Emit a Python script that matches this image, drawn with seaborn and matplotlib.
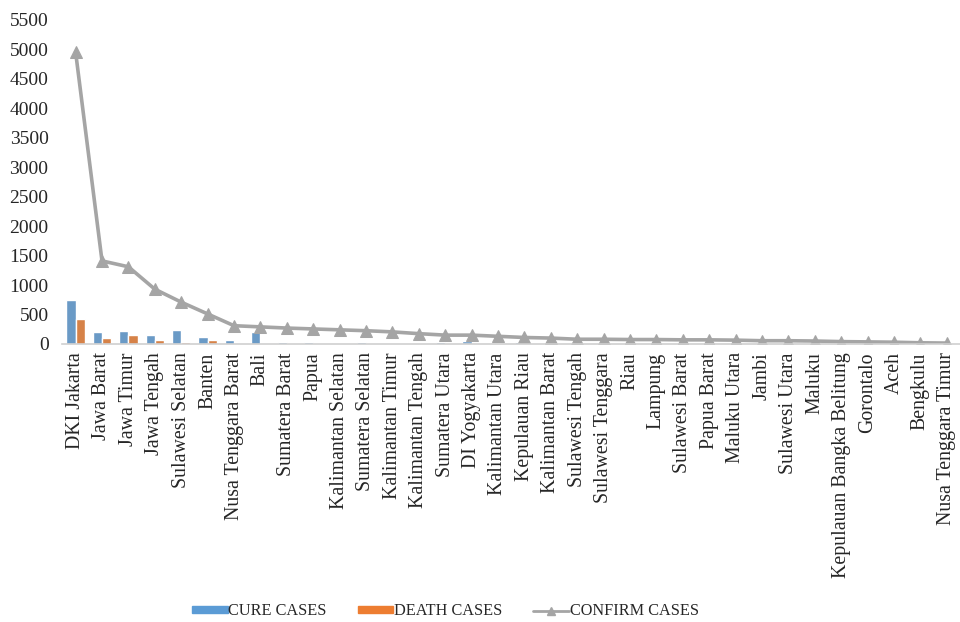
import matplotlib
matplotlib.use("Agg")
import matplotlib.pyplot as plt
import seaborn as sns
import pandas as pd
from matplotlib.patches import Patch
from matplotlib.lines import Line2D

provinces = [
    "DKI Jakarta", "Jawa Barat", "Jawa Timur", "Jawa Tengah", "Sulawesi Selatan",
    "Banten", "Nusa Tenggara Barat", "Bali", "Sumatera Barat", "Papua",
    "Kalimantan Selatan", "Sumatera Selatan", "Kalimantan Timur", "Kalimantan Tengah",
    "Sumatera Utara", "DI Yogyakarta", "Kalimantan Utara", "Kepulauan Riau",
    "Kalimantan Barat", "Sulawesi Tengah", "Sulawesi Tenggara", "Riau", "Lampung",
    "Sulawesi Barat", "Papua Barat", "Maluku Utara", "Jambi", "Sulawesi Utara",
    "Maluku", "Kepulauan Bangka Belitung", "Gorontalo", "Aceh", "Bengkulu",
    "Nusa Tenggara Timur",
]
cure = [750, 200, 225, 160, 245, 125, 70, 195, 35, 35, 20, 30, 5, 10, 35, 50, 5, 40,
        10, 5, 10, 10, 10, 5, 5, 5, 5, 5, 5, 5, 5, 5, 5, 0]
death = [430, 95, 145, 70, 40, 60, 5, 5, 5, 5, 5, 5, 5, 5, 10, 5, 5, 5,
         5, 5, 5, 5, 10, 5, 5, 5, 0, 5, 5, 5, 0, 5, 0, 0]
confirm = [4955, 1410, 1310, 930, 710, 510, 310, 290, 270, 255, 240, 225, 205, 175,
           150, 150, 130, 110, 100, 80, 80, 75, 75, 70, 70, 65, 55, 55, 50, 40,
           35, 30, 20, 15]

BLUE = "#5B9BD5"
ORANGE = "#ED7D31"
GRAY = "#A5A5A5"

sns.set_style("white")
plt.rcParams["font.family"] = ["Liberation Serif", "DejaVu Serif"]

bars = pd.DataFrame({
    "province": provinces * 2,
    "value": cure + death,
    "kind": ["CURE CASES"] * len(provinces) + ["DEATH CASES"] * len(provinces),
})
line = pd.DataFrame({"province": provinces, "confirm": confirm})

fig = plt.figure(figsize=(9.6, 6.22), dpi=100)
ax = fig.add_axes([0.065, 0.447, 0.935, 0.521])

sns.barplot(data=bars, x="province", y="value", hue="kind",
            palette=[BLUE, ORANGE], width=0.7, ax=ax, legend=False)
sns.lineplot(data=line, x="province", y="confirm", sort=False, color=GRAY,
             linewidth=2.6, marker="^", markersize=9, markeredgecolor=GRAY,
             ax=ax, legend=False)

ax.set_ylim(0, 5500)
ax.set_yticks(range(0, 5501, 500))
ax.set_xlim(-0.5, len(provinces) - 0.5)
ax.set_xlabel("")
ax.set_ylabel("")
ax.tick_params(axis="y", labelsize=14, length=0, pad=10)
ax.tick_params(axis="x", labelsize=14.3, length=0, pad=6, labelrotation=90)
for lab in ax.get_xticklabels():
    lab.set_verticalalignment("top")
for side in ["left", "right", "top"]:
    ax.spines[side].set_visible(False)
ax.spines["bottom"].set_color("#D0D0D0")
ax.spines["bottom"].set_linewidth(1.2)

handles = [
    Patch(facecolor=BLUE, edgecolor=BLUE),
    Patch(facecolor=ORANGE, edgecolor=ORANGE),
    Line2D([0], [0], color=GRAY, linewidth=2, marker="^", markersize=6),
]
fig.legend(handles, ["CURE CASES", "DEATH CASES", "CONFIRM CASES"],
           loc="center", bbox_to_anchor=(0.464, 0.017), ncol=3, frameon=False,
           fontsize=11.7, handlelength=2.2, handleheight=0.35, handletextpad=0.05,
           columnspacing=1.9)

fig.savefig("out.png", dpi=100)
